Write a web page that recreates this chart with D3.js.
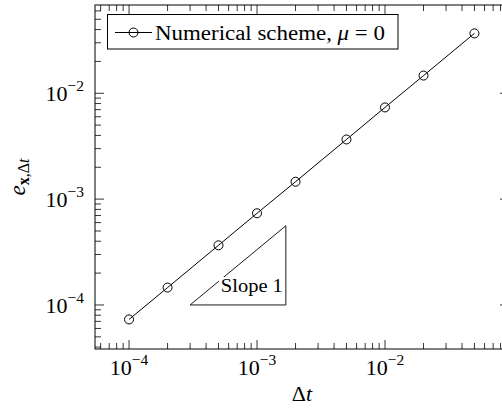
<!DOCTYPE html>
<html>
<head>
<meta charset="utf-8">
<script src="https://cdn.jsdelivr.net/npm/d3@7"></script>
<style>
  body { margin: 0; background: #fff; }
</style>
</head>
<body>
<div id="chart"></div>
<script>
// Data
const timeSteps = [1e-4, 2e-4, 5e-4, 1e-3, 2e-3, 5e-3, 1e-2, 2e-2, 5e-2];
const errors = [7.3e-5, 1.46e-4, 3.66e-4, 7.35e-4, 1.46e-3, 3.66e-3, 7.35e-3, 1.47e-2, 3.68e-2];
const xTickValues = [1e-4, 1e-3, 1e-2];
const xTickExponents = ["\u22124", "\u22123", "\u22122"];
const yTickValues = [1e-4, 1e-3, 1e-2];
const yTickExponents = ["\u22124", "\u22123", "\u22122"];
const slopeTriangle = [[3e-4, 1e-4], [1.68e-3, 1e-4], [1.68e-3, 5.6e-4]];
const legendLabel = "Numerical scheme, ";

// Dimensions
const width = 502;
const height = 410;
const plot = {left: 95, right: 509, top: 5, bottom: 349};

const svg = d3.select("#chart")
    .append("svg")
    .attr("width", width)
    .attr("height", height)
    .attr("font-family", "'Liberation Serif', 'Times New Roman', 'DejaVu Serif', serif")
    .attr("fill", "#000");

// Scales (log-log)
const xScale = d3.scaleLog()
    .domain([Math.pow(10, -4.266), Math.pow(10, -1.031)])
    .range([plot.left, plot.right]);
const yScale = d3.scaleLog()
    .domain([Math.pow(10, -4.416), Math.pow(10, -1.166)])
    .range([plot.bottom, plot.top]);

// Minor + major ticks for every decade inside the domain
function logTicks(scale) {
    const [lo, hi] = scale.domain();
    const ticks = [];
    for (let e = Math.floor(Math.log10(lo)); e <= Math.ceil(Math.log10(hi)); e++) {
        for (let m = 1; m <= 9; m++) {
            const v = m * Math.pow(10, e);
            if (v >= lo && v <= hi) ticks.push({value: v, major: m === 1});
        }
    }
    return ticks;
}

const tickGroup = svg.append("g")
    .attr("stroke", "#000")
    .attr("stroke-width", 0.8);

// x ticks on bottom and top
logTicks(xScale).forEach(t => {
    const len = t.major ? 9 : 6;
    const x = xScale(t.value);
    tickGroup.append("line")
        .attr("x1", x).attr("x2", x)
        .attr("y1", plot.bottom).attr("y2", plot.bottom - len);
    tickGroup.append("line")
        .attr("x1", x).attr("x2", x)
        .attr("y1", plot.top).attr("y2", plot.top + len);
});

// y ticks on left and right
logTicks(yScale).forEach(t => {
    const len = t.major ? 9 : 6;
    const y = yScale(t.value);
    tickGroup.append("line")
        .attr("x1", plot.left).attr("x2", plot.left + len)
        .attr("y1", y).attr("y2", y);
    tickGroup.append("line")
        .attr("x1", plot.right).attr("x2", plot.right - len)
        .attr("y1", y).attr("y2", y);
});

// Axis frame
svg.append("rect")
    .attr("x", plot.left)
    .attr("y", plot.top)
    .attr("width", plot.right - plot.left)
    .attr("height", plot.bottom - plot.top)
    .attr("fill", "none")
    .attr("stroke", "#000")
    .attr("stroke-width", 1);

// Tick labels
xTickValues.forEach((v, i) => {
    const label = svg.append("text")
        .attr("x", xScale(v))
        .attr("y", 374.5)
        .attr("text-anchor", "middle")
        .attr("font-size", 22);
    label.append("tspan").text("10");
    label.append("tspan")
        .attr("font-size", 15.5)
        .attr("dy", -10)
        .text(xTickExponents[i]);
});

yTickValues.forEach((v, i) => {
    const label = svg.append("text")
        .attr("x", 84)
        .attr("y", yScale(v) + 8)
        .attr("text-anchor", "end")
        .attr("font-size", 22);
    label.append("tspan").text("10");
    label.append("tspan")
        .attr("font-size", 15.5)
        .attr("dy", -10)
        .text(yTickExponents[i]);
});

// Axis labels
const xLabel = svg.append("text")
    .attr("x", (plot.left + plot.right) / 2)
    .attr("y", 401)
    .attr("text-anchor", "middle")
    .attr("font-size", 22);
xLabel.append("tspan").text("\u0394");
xLabel.append("tspan").attr("font-style", "italic").text("t");

const yLabel = svg.append("text")
    .attr("transform", "translate(25," + ((plot.top + plot.bottom) / 2) + ") rotate(-90)")
    .attr("text-anchor", "middle")
    .attr("font-size", 23);
yLabel.append("tspan").attr("font-style", "italic").text("e");
yLabel.append("tspan").attr("font-size", 16).attr("dy", 4).attr("font-weight", "bold").text("x");
yLabel.append("tspan").attr("font-size", 16).text(",\u0394");
yLabel.append("tspan").attr("font-size", 16).attr("font-style", "italic").text("t");

// Slope triangle
svg.append("path")
    .datum(slopeTriangle)
    .attr("d", d3.line().x(d => xScale(d[0])).y(d => yScale(d[1])).curve(d3.curveLinearClosed))
    .attr("fill", "none")
    .attr("stroke", "#000")
    .attr("stroke-width", 0.9);

const slopeText = svg.append("text")
    .attr("x", xScale(slopeTriangle[1][0]) - 3)
    .attr("y", 292)
    .attr("text-anchor", "end")
    .attr("font-size", 19)
    .attr("textLength", 62)
    .attr("lengthAdjust", "spacingAndGlyphs")
    .text("Slope 1");
const bb = slopeText.node().getBBox();
svg.insert("rect", "text:last-of-type")
    .attr("x", bb.x - 2)
    .attr("y", bb.y + 2)
    .attr("width", bb.width + 2.5)
    .attr("height", bb.height - 4)
    .attr("fill", "#fff");
slopeText.raise();

// Data line and markers
const line = d3.line()
    .x((d, i) => xScale(timeSteps[i]))
    .y(d => yScale(d));

svg.append("path")
    .datum(errors)
    .attr("d", line)
    .attr("fill", "none")
    .attr("stroke", "#000")
    .attr("stroke-width", 1);

svg.selectAll(".point")
    .data(errors)
    .enter()
    .append("circle")
    .attr("class", "point")
    .attr("cx", (d, i) => xScale(timeSteps[i]))
    .attr("cy", d => yScale(d))
    .attr("r", 4.5)
    .attr("fill", "none")
    .attr("stroke", "#000")
    .attr("stroke-width", 1);

// Legend
const legend = svg.append("g");
legend.append("rect")
    .attr("x", 107.5)
    .attr("y", 14.5)
    .attr("width", 290.5)
    .attr("height", 34.5)
    .attr("fill", "#fff")
    .attr("stroke", "#000")
    .attr("stroke-width", 1);
legend.append("line")
    .attr("x1", 115).attr("x2", 152)
    .attr("y1", 32.5).attr("y2", 32.5)
    .attr("stroke", "#000")
    .attr("stroke-width", 1);
legend.append("circle")
    .attr("cx", 133.5)
    .attr("cy", 32.5)
    .attr("r", 4.5)
    .attr("fill", "none")
    .attr("stroke", "#000")
    .attr("stroke-width", 1);
const legendText = legend.append("text")
    .attr("x", 155)
    .attr("y", 39.5)
    .attr("font-size", 20)
    .attr("textLength", 230)
    .attr("lengthAdjust", "spacingAndGlyphs");
legendText.append("tspan").text(legendLabel);
legendText.append("tspan").attr("font-style", "italic").text("\u03bc");
legendText.append("tspan").text(" = 0");
</script>
</body>
</html>
